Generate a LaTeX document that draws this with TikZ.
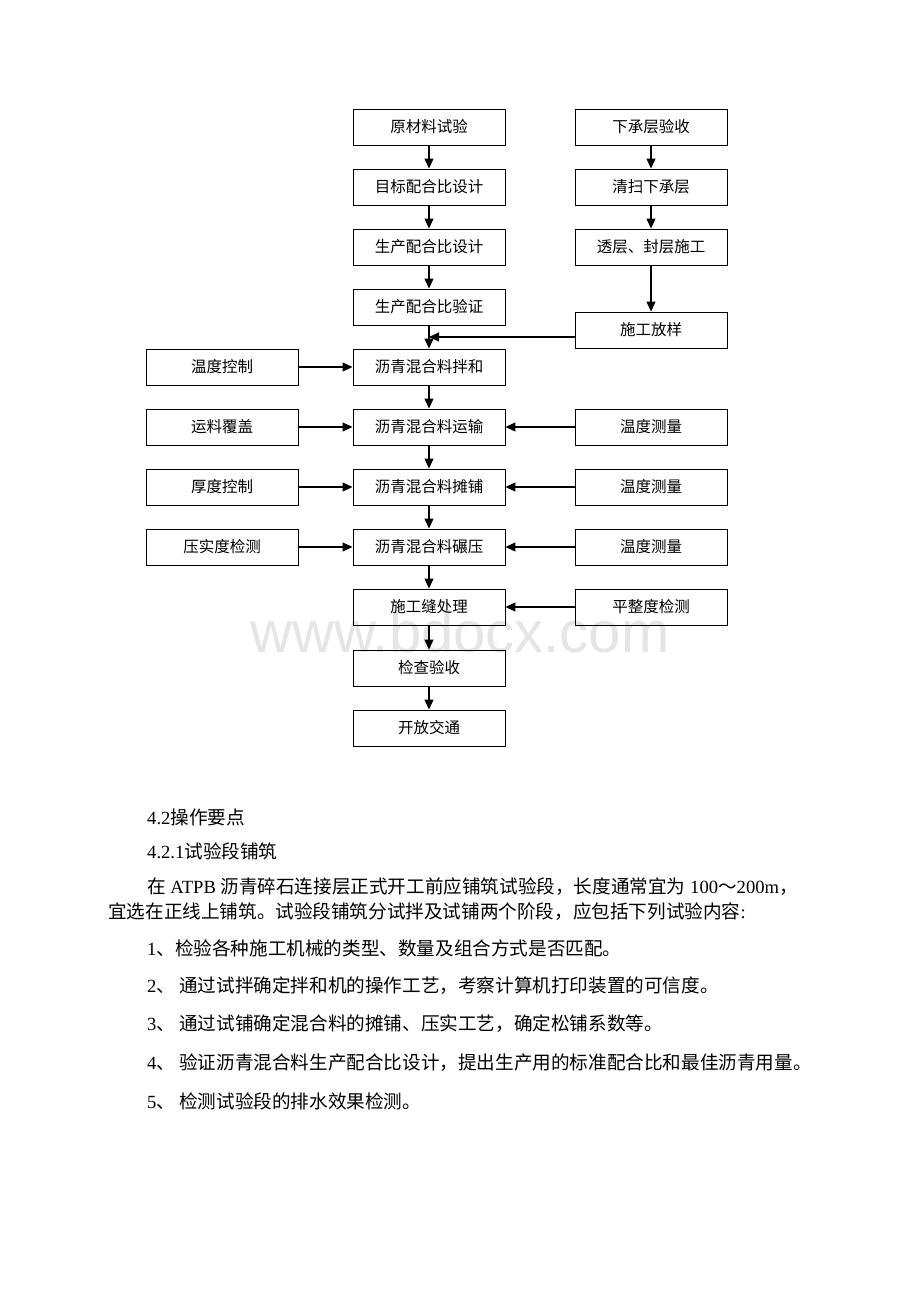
\documentclass[tikz,border=0pt]{standalone}
\usepackage{fontspec}
\setmainfont{Liberation Serif}
\newfontfamily\cjk{Noto Sans CJK SC}
\newfontfamily\wmfont{Liberation Sans}
\usetikzlibrary{arrows.meta}
\tikzset{
  box/.style={draw, line width=0.9pt, minimum width=152pt, minimum height=36pt, inner sep=0pt,
    font=\cjk\fontsize{15.5}{17}\selectfont},
  arr/.style={line width=1.1pt, -{Triangle[length=10pt,width=9pt]}},
  body/.style={anchor=west, inner sep=0pt, font=\fontsize{18.6}{21}\selectfont},
}
\begin{document}
\begin{tikzpicture}[x=1pt,y=-1pt]
\useasboundingbox (0,0) rectangle (920,1302);
\fill[white] (0,0) rectangle (920,1302);
% watermark
\node[text=black!10, font=\wmfont\fontsize{58}{58}\selectfont, inner sep=0pt] (wm) at (460,632) {www.bdocx.com};
% centre column
\node[box] (c1) at (429,127) {原材料试验};
\node[box] (c2) at (429,187) {目标配合比设计};
\node[box] (c3) at (429,247) {生产配合比设计};
\node[box] (c4) at (429,307) {生产配合比验证};
\node[box] (c5) at (429,367) {沥青混合料拌和};
\node[box] (c6) at (429,427) {沥青混合料运输};
\node[box] (c7) at (429,487) {沥青混合料摊铺};
\node[box] (c8) at (429,547) {沥青混合料碾压};
\node[box] (c9) at (429,607) {施工缝处理};
\node[box] (c10) at (429,668) {检查验收};
\node[box] (c11) at (429,728) {开放交通};
% right column
\node[box] (r1) at (651,127) {下承层验收};
\node[box] (r2) at (651,187) {清扫下承层};
\node[box] (r3) at (651,247) {透层、封层施工};
\node[box] (r4) at (651,330) {施工放样};
\node[box] (t1) at (651,427) {温度测量};
\node[box] (t2) at (651,487) {温度测量};
\node[box] (t3) at (651,547) {温度测量};
\node[box] (p1) at (651,607) {平整度检测};
% left column
\node[box] (l1) at (222,367) {温度控制};
\node[box] (l2) at (222,427) {运料覆盖};
\node[box] (l3) at (222,487) {厚度控制};
\node[box] (l4) at (222,547) {压实度检测};
% connectors
\foreach \a/\b in {c1/c2,c2/c3,c3/c4,c4/c5,c5/c6,c6/c7,c7/c8,c8/c9,c9/c10,c10/c11,r1/r2,r2/r3,r3/r4}
  \draw[arr] (\a.south) -- (\b.north);
\draw[arr] (r4.west) ++(0,7) coordinate (m0) -- (m0 -| c4.south);
\foreach \a/\b in {l1/c5,l2/c6,l3/c7,l4/c8,t1/c6,t2/c7,t3/c8,p1/c9}
  \draw[arr] (\a) -- (\b);
% body text
\node[body] (h1) at (147,817) {4.2{\cjk 操作要点}};
\node[body] (h2) at (147,851) {4.2.1{\cjk 试验段铺筑}};
\node[body] (p1a) at (147,887) {{\cjk 在} ATPB {\cjk 沥青碎石连接层正式开工前应铺筑试验段，长度通常宜为} 100{\cjk ～}200m{\cjk ，}};
\node[body] (p1b) at (108,912) {{\cjk 宜选在正线上铺筑。试验段铺筑分试拌及试铺两个阶段，应包括下列试验内容}:};
\node[body] (i1) at (147,948) {1{\cjk 、检验各种施工机械的类型、数量及组合方式是否匹配。}};
\node[body] (i2) at (147,986) {2{\cjk 、 通过试拌确定拌和机的操作工艺，考察计算机打印装置的可信度。}};
\node[body] (i3) at (147,1024) {3{\cjk 、 通过试铺确定混合料的摊铺、压实工艺，确定松铺系数等。}};
\node[body] (i4) at (147,1063) {4{\cjk 、 验证沥青混合料生产配合比设计，提出生产用的标准配合比和最佳沥青用量。}};
\node[body] (i5) at (147,1101) {5{\cjk 、 检测试验段的排水效果检测。}};
\end{tikzpicture}
\end{document}
